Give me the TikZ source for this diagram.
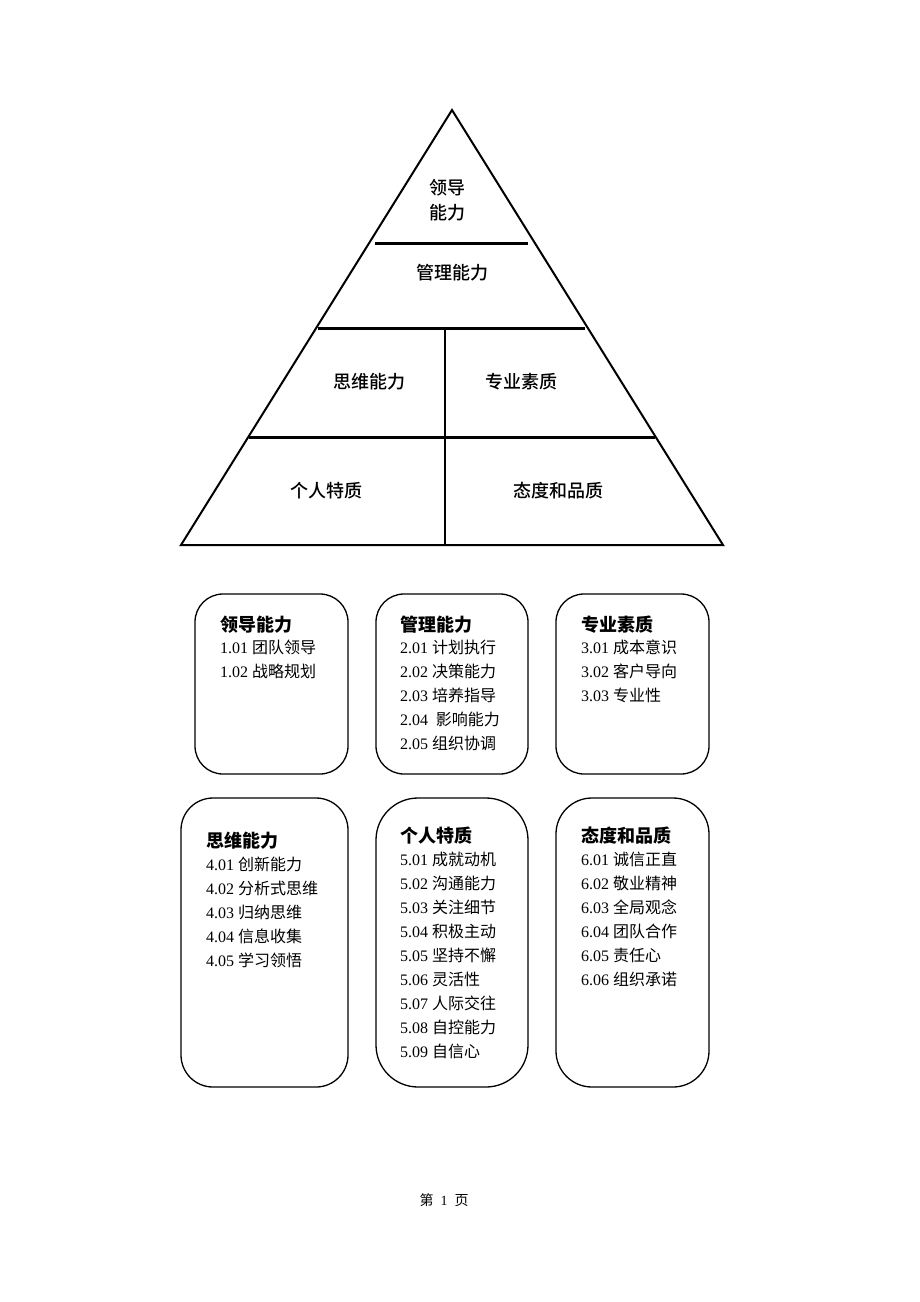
\documentclass[tikz,border=0pt]{standalone}
\usepackage{fontspec}
\setmainfont{Liberation Serif}
\newfontfamily\cjk{Noto Sans CJK SC}
\newfontfamily\cjkm{Noto Sans CJK SC Medium}
\newcommand\li[2]{\hbox{#1 {\cjk #2}}}
\newcommand\lst[1]{\vtop{\baselineskip=24pt #1}}
\begin{document}
\begin{tikzpicture}[x=1pt,y=-1pt,
  tri/.style={line width=2pt, line join=miter},
  divider/.style={line width=3pt},
  vline/.style={line width=1.2pt},
  card/.style={line width=1.3pt},
  ptext/.style={font=\cjkm\fontsize{18}{25}\selectfont, inner sep=0, align=center},
  ctitle/.style={font=\cjk\bfseries\fontsize{18}{24}\selectfont, anchor=base west, inner sep=0},
  citems/.style={font=\fontsize{16}{24}\selectfont, anchor=base west, inner sep=0}]
\useasboundingbox (0,0) rectangle (920,1302);
% pyramid
\coordinate (apex) at (452,110);
\coordinate (bl) at (181,545);
\coordinate (br) at (723,545);
\draw[tri] (apex) -- (bl) -- (br) -- cycle;
\coordinate (d1l) at (375,243); \coordinate (d1r) at (528,243);
\coordinate (d2l) at (318,328); \coordinate (d2r) at (585,328);
\coordinate (d3l) at (249,437); \coordinate (d3r) at (655,437);
\coordinate (vt) at (445,328); \coordinate (vb) at (445,545);
\draw[divider] (d1l) -- (d1r);
\draw[divider] (d2l) -- (d2r);
\draw[divider] (d3l) -- (d3r);
\draw[vline] (vt) -- (vb);
\node[ptext] (p1) at (447,200) {领导\\能力};
\node[ptext] (p2) at (452,273) {管理能力};
\node[ptext] (p3) at (369,382) {思维能力};
\node[ptext] (p4) at (521,382) {专业素质};
\node[ptext] (p5) at (326,491) {个人特质};
\node[ptext] (p6) at (558,491) {态度和品质};
% cards
\draw[card, rounded corners=28pt] (195,594) rectangle (348,774);
\draw[card, rounded corners=28pt] (376,594) rectangle (528,774);
\draw[card, rounded corners=28pt] (556,594) rectangle (709,774);
\draw[card, rounded corners=32pt] (181,798) rectangle (348,1087);
\draw[card, rounded corners=42pt] (376,798) rectangle (528,1087);
\draw[card, rounded corners=36pt] (556,798) rectangle (709,1087);
% card 1
\node[ctitle] (t1) at (220,631) {领导能力};
\node[citems] (i1) at (220,653) {\lst{\li{1.01}{团队领导}\li{1.02}{战略规划}}};
% card 2
\node[ctitle] (t2) at (400,631) {管理能力};
\node[citems] (i2) at (400,653) {\lst{\li{2.01}{计划执行}\li{2.02}{决策能力}\li{2.03}{培养指导}\li{2.04}{\ 影响能力}\li{2.05}{组织协调}}};
% card 3
\node[ctitle] (t3) at (581,631) {专业素质};
\node[citems] (i3) at (581,653) {\lst{\li{3.01}{成本意识}\li{3.02}{客户导向}\li{3.03}{专业性}}};
% card 4
\node[ctitle] (t4) at (206,847) {思维能力};
\node[citems] (i4) at (206,870) {\lst{\li{4.01}{创新能力}\li{4.02}{分析式思维}\li{4.03}{归纳思维}\li{4.04}{信息收集}\li{4.05}{学习领悟}}};
% card 5
\node[ctitle] (t5) at (400,842) {个人特质};
\node[citems] (i5) at (400,865) {\lst{\li{5.01}{成就动机}\li{5.02}{沟通能力}\li{5.03}{关注细节}\li{5.04}{积极主动}\li{5.05}{坚持不懈}\li{5.06}{灵活性}\li{5.07}{人际交往}\li{5.08}{自控能力}\li{5.09}{自信心}}};
% card 6
\node[ctitle] (t6) at (581,842) {态度和品质};
\node[citems] (i6) at (581,865) {\lst{\li{6.01}{诚信正直}\li{6.02}{敬业精神}\li{6.03}{全局观念}\li{6.04}{团队合作}\li{6.05}{责任心}\li{6.06}{组织承诺}}};
% footer
\node[font=\fontsize{14}{16}\selectfont, inner sep=0] (foot) at (444,1200) {{\cjk 第}\ \ 1\ \ {\cjk 页}};
\end{tikzpicture}
\end{document}
